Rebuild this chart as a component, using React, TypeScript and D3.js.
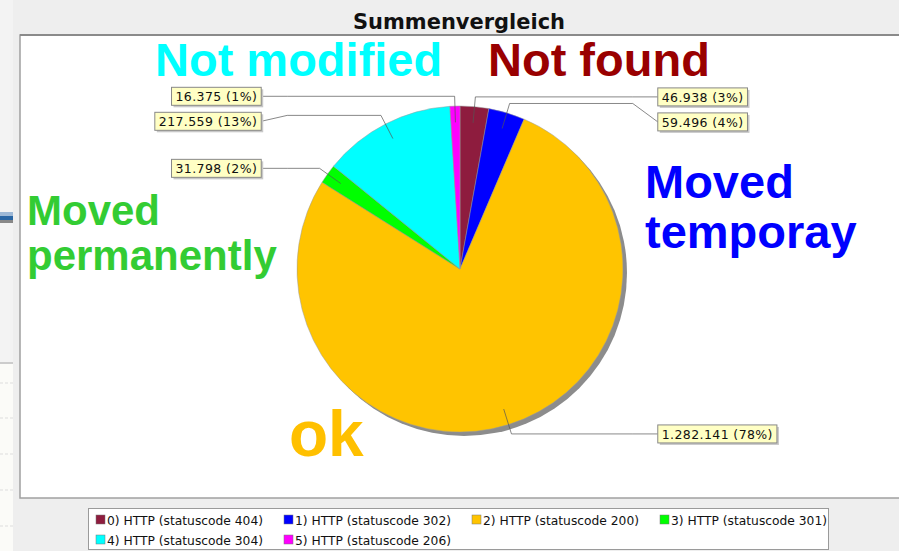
import React, { useEffect, useRef } from "react";
import * as d3 from "d3";

const CODES = ["404", "302", "200", "301", "304", "206"];
const VALUES = [46938, 59496, 1282141, 31798, 217559, 16375];
const COLORS = ["#8e1c3e", "#0000ff", "#ffc400", "#00ff00", "#00ffff", "#ff00ff"];

const NOTES = [
  { lines: ["Not modified"], color: "#00ffff", size: 47, x: 155, y: 76 },
  { lines: ["Not found"], color: "#990000", size: 47, x: 488, y: 76 },
  { lines: ["Moved", "temporay"], color: "#0000ff", size: 47, x: 645, y: 198 },
  { lines: ["Moved", "permanently"], color: "#33cc33", size: 42, x: 27, y: 225 },
  { lines: ["ok"], color: "#ffc000", size: 64, x: 289, y: 456 },
];

const W = 899;
const H = 551;

export default function App() {
  const svgRef = useRef<SVGSVGElement>(null);

  useEffect(() => {
    const svg = d3.select(svgRef.current);
    svg.selectAll("*").remove();

    const de = d3.formatLocale({ decimal: ",", thousands: ".", grouping: [3], currency: ["", "€"] });
    const fmt = de.format(",d");
    const total = d3.sum(VALUES);

    // background + screenshot leftovers on the left
    svg.append("rect").attr("width", W).attr("height", H).attr("fill", "#eeeeee");
    svg.append("rect").attr("x", 0).attr("y", 0).attr("width", 13).attr("height", H).attr("fill", "#f3f3f3");
    svg.append("rect").attr("x", 0).attr("y", 212).attr("width", 13).attr("height", 4).attr("fill", "#9db8d6");
    svg.append("rect").attr("x", 0).attr("y", 216).attr("width", 13).attr("height", 4).attr("fill", "#2a66a4");
    svg.append("rect").attr("x", 0).attr("y", 220).attr("width", 13).attr("height", 3).attr("fill", "#888");
    svg.append("rect").attr("x", 0).attr("y", 362).attr("width", 13).attr("height", 2).attr("fill", "#ccc");
    svg.append("rect").attr("x", 0).attr("y", 364).attr("width", 13).attr("height", 187).attr("fill", "#fbfbf8");
    [383, 418, 454, 490, 526].forEach(yy =>
      svg.append("line").attr("x1", 0).attr("x2", 13).attr("y1", yy).attr("y2", yy)
        .attr("stroke", "#ddd").attr("stroke-dasharray", "3,2"));

    // title
    svg.append("text")
      .attr("x", 459).attr("y", 29)
      .attr("text-anchor", "middle")
      .attr("font-family", "DejaVu Sans Condensed, DejaVu Sans")
      .style("font-stretch", "condensed")
      .attr("font-weight", "bold")
      .attr("font-size", 21)
      .attr("textLength", 212)
      .attr("lengthAdjust", "spacingAndGlyphs")
      .attr("fill", "#111")
      .text("Summenvergleich");

    // plot panel
    svg.append("rect").attr("x", 20).attr("y", 35).attr("width", 890).attr("height", 463)
      .attr("fill", "#fff").attr("stroke", "#a0a0a0").attr("stroke-width", 1.5);
    svg.append("line").attr("x1", 20).attr("x2", W).attr("y1", 35).attr("y2", 35)
      .attr("stroke", "#8a8a8a").attr("stroke-width", 2);

    // pie
    const cx = 460, cy = 269, r = 163;
    const pie = d3.pie<number>().sort(null).value(d => d).startAngle(0).endAngle(2 * Math.PI);
    const arcs = pie(VALUES);
    const arc = d3.arc<d3.PieArcDatum<number>>().innerRadius(0).outerRadius(r);

    const g = svg.append("g").attr("transform", `translate(${cx},${cy})`);
    g.append("circle").attr("cx", 4).attr("cy", 4).attr("r", r).attr("fill", "#8c8c8c");
    g.selectAll("path.slice")
      .data(arcs)
      .join("path")
      .attr("class", "slice")
      .attr("d", arc)
      .attr("fill", (d, i) => COLORS[i])
      .attr("stroke", "#9a9a9a")
      .attr("stroke-width", 0.5);

    // labels
    const polar = (a: number, rho: number) => [cx + rho * Math.sin(a), cy - rho * Math.cos(a)];
    const items = arcs.map((a, i) => {
      const mid = (a.startAngle + a.endAngle) / 2;
      const anchor = polar(mid, r * 0.9);
      const elbow = polar(mid, r * 1.06);
      const left = Math.sin(mid) < 0;
      return {
        i, mid, anchor, elbow, left,
        labelY: elbow[1],
        text: `${fmt(VALUES[i])} (${Math.round((VALUES[i] / total) * 100)}%)`,
      };
    });
    const spacing = 25;
    [true, false].forEach(side => {
      const list = items.filter(d => d.left === side).sort((a, b) => a.elbow[1] - b.elbow[1]);
      for (let k = 1; k < list.length; k++) {
        if (list[k].labelY < list[k - 1].labelY + spacing) list[k].labelY = list[k - 1].labelY + spacing;
      }
    });

    const linkL = cx - r * 1.06, linkR = cx + r * 1.06;
    const lab = svg.append("g");
    items.forEach(d => {
      const linkX = d.left ? linkL : linkR;
      const t = lab.append("text")
        .attr("font-family", "DejaVu Sans")
        .attr("font-size", 12.5)
        .attr("letter-spacing", 0.4)
        .attr("fill", "#111")
        .attr("dominant-baseline", "central")
        .text(d.text);
      const tw = (t.node() as SVGTextElement).getComputedTextLength();
      const bw = tw + 8, bh = 18;
      const bx = d.left ? linkX - 26 - bw : linkX + 25;
      const by = d.labelY - bh / 2;
      const edgeX = d.left ? bx + bw : bx;
      lab.insert("polyline", "text")
        .attr("points", [d.anchor, d.elbow, [linkX, d.elbow[1]], [edgeX, d.labelY]].map(p => p.join(",")).join(" "))
        .attr("fill", "none").attr("stroke", "#555").attr("stroke-width", 0.7);
      lab.insert("rect", "text").attr("x", bx + 2).attr("y", by + 2).attr("width", bw).attr("height", bh).attr("fill", "#c8c8c8");
      lab.insert("rect", "text").attr("x", bx).attr("y", by).attr("width", bw).attr("height", bh)
        .attr("fill", "#ffffc4").attr("stroke", "#888").attr("stroke-width", 1);
      t.attr("x", bx + 4).attr("y", d.labelY + 0.5);
    });

    // big annotations
    NOTES.forEach(n => {
      const tx = svg.append("text")
        .attr("font-family", "Liberation Sans, Arial, sans-serif")
        .attr("font-weight", "bold")
        .attr("font-size", n.size)
        .attr("fill", n.color);
      n.lines.forEach((ln, k) =>
        tx.append("tspan").attr("x", n.x).attr("y", n.y + k * n.size * 1.07).text(ln));
    });

    // legend
    svg.append("rect").attr("x", 88.5).attr("y", 508.5).attr("width", 740).attr("height", 41)
      .attr("fill", "#fff").attr("stroke", "#9a9a9a");
    const leg = svg.append("g").selectAll("g")
      .data(CODES)
      .join("g")
      .attr("transform", (d, i) => `translate(${96 + (i % 4) * 188},${520 + Math.floor(i / 4) * 20})`);
    leg.append("rect").attr("x", 0).attr("y", -5).attr("width", 9).attr("height", 9)
      .attr("fill", (d, i) => COLORS[i]).attr("stroke", "#777").attr("stroke-width", 0.5);
    leg.append("text")
      .attr("x", 11).attr("y", 0)
      .attr("dominant-baseline", "central")
      .attr("font-family", "DejaVu Sans Condensed, DejaVu Sans")
      .style("font-stretch", "condensed")
      .attr("font-size", 13)
      .attr("textLength", 156)
      .attr("lengthAdjust", "spacingAndGlyphs")
      .attr("fill", "#111")
      .text((d, i) => `${i}) HTTP (statuscode ${d})`);
  }, []);

  return (
    <div style={{ position: "absolute", left: 0, top: 0 }}>
      <svg ref={svgRef} width={W} height={H} style={{ display: "block" }} />
    </div>
  );
}
